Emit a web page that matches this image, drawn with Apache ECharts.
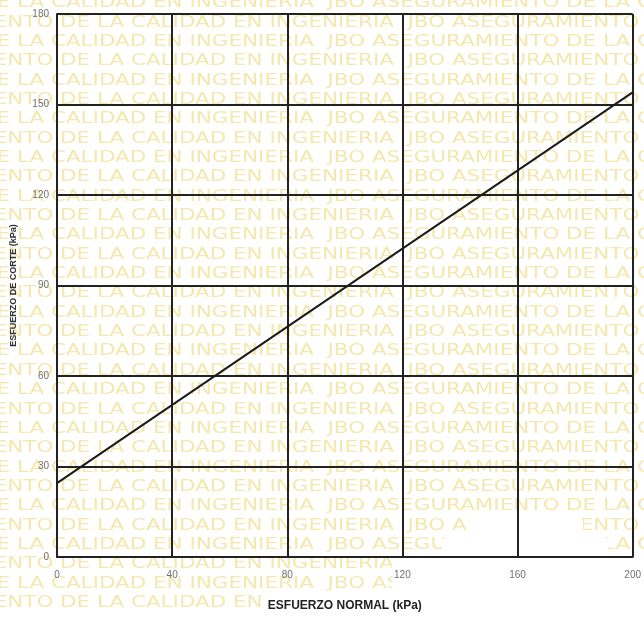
<!DOCTYPE html>
<html><head><meta charset="utf-8">
<script src="https://cdn.jsdelivr.net/npm/echarts@6/dist/echarts.min.js"></script>
<style>html,body{margin:0;padding:0;background:#fff}#c{width:644px;height:617px}</style>
</head><body><div id="c"></div>
<script>
// ---- data ----
const xTicks = [0, 40, 80, 120, 160, 200];
const yTicks = [0, 30, 60, 90, 120, 150, 180];
const lineX = [0, 200];
const lineY = [24.5, 154];
const xName = 'ESFUERZO NORMAL (kPa)';
const yName = 'ESFUERZO DE CORTE (kPa)';
const watermarkPhrase = 'LA CALIDAD EN INGENIERIA  JBO ASEGURAMIENTO DE ';

// ---- watermark ----
const wmFont = 'normal 16px "DejaVu Sans"';
const cv = document.createElement('canvas').getContext('2d');
cv.font = wmFont;
const phraseW = cv.measureText(watermarkPhrase).width;
const period = 586;
const sx = period / phraseW;
const wmText = watermarkPhrase.repeat(4);
const graphics = [];
const rows = 32;
for (let i = 0; i < rows; i++) {
  const y = 3 + i * 19.35;
  const startLA = (i % 2 === 0) ? 17 : 97;
  graphics.push({
    type: 'text', x: startLA - period, y: y, scaleX: sx, z: -10, silent: true,
    style: { text: wmText, font: wmFont, fill: '#f4e8ae', verticalAlign: 'middle', align: 'left' }
  });
}
// faded (blank) patches of the scan, lower right
const patches = [[468, 517, 115, 18], [442, 536, 166, 19], [392, 556, 252, 40], [265, 594, 379, 23]];
patches.forEach(p => graphics.push({
  type: 'rect', z: -9, silent: true,
  shape: { x: p[0], y: p[1], width: p[2], height: p[3], r: 6 },
  style: { fill: '#fff' }
}));

const chart = echarts.init(document.getElementById('c'));
const lineStyle = { color: '#222', width: 2 };
chart.setOption({
  backgroundColor: '#fff',
  animation: false,
  graphic: { elements: graphics },
  grid: { left: 57, right: 10, top: 14, bottom: 54, containLabel: false },
  xAxis: {
    type: 'value', min: xTicks[0], max: xTicks[xTicks.length - 1], interval: 40, z: 5,
    name: xName, nameLocation: 'middle', nameGap: 43,
    nameTextStyle: { fontFamily: '"Liberation Sans Narrow", "Liberation Sans", Arial', fontWeight: 'bold', fontSize: 12, color: '#222' },
    axisLine: { show: true, lineStyle: lineStyle },
    axisTick: { show: false },
    axisLabel: { margin: 13, fontSize: 10, color: '#707070', fontFamily: '"Liberation Sans", Arial' },
    splitLine: { show: true, lineStyle: lineStyle }
  },
  yAxis: {
    type: 'value', min: yTicks[0], max: yTicks[yTicks.length - 1], interval: 30, z: 5,
    name: yName, nameLocation: 'middle', nameGap: 39,
    nameTextStyle: { fontFamily: '"Liberation Sans Narrow", "Liberation Sans", Arial', fontWeight: 'bold', fontSize: 9, color: '#333' },
    axisLine: { show: true, lineStyle: lineStyle },
    axisTick: { show: false },
    axisLabel: { margin: 8, fontSize: 10, color: '#707070', fontFamily: '"Liberation Sans", Arial' },
    splitLine: { show: true, lineStyle: lineStyle }
  },
  series: [{
    type: 'line', z: 6, symbol: 'none',
    data: lineX.map((x, i) => [x, lineY[i]]),
    lineStyle: { color: '#1a1a1a', width: 2 }
  }]
});
</script></body></html>
